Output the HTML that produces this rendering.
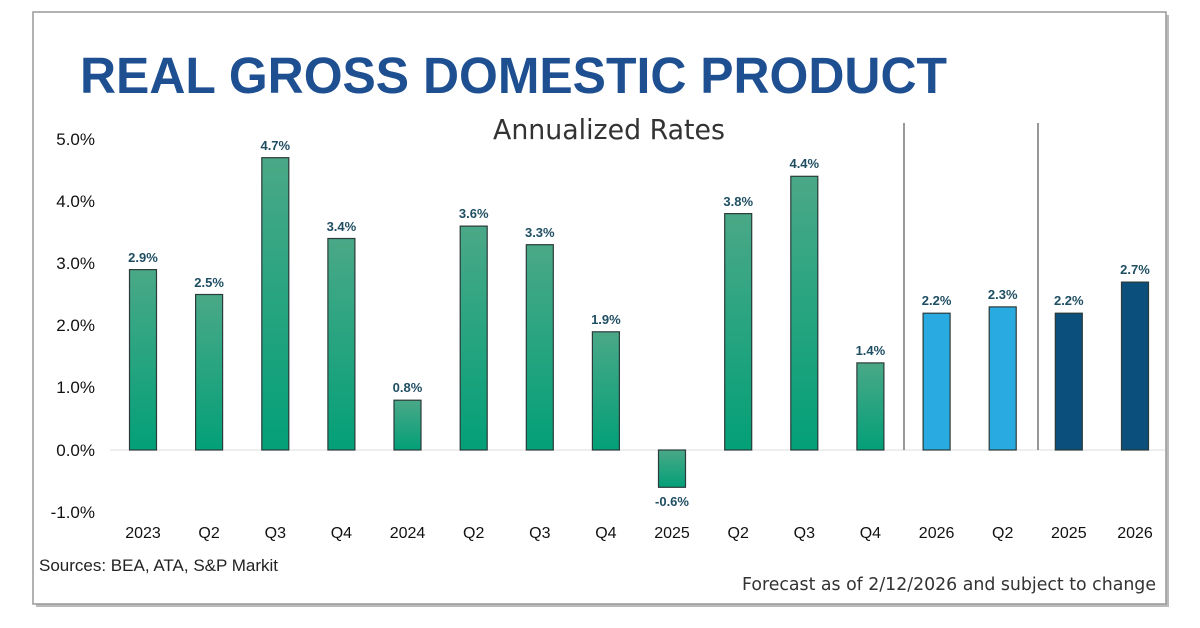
<!DOCTYPE html>
<html><head><meta charset="utf-8"><style>
body{margin:0;background:#fff;}
svg{display:block;font-family:"Liberation Sans",Arial,sans-serif;}
</style></head><body>
<svg width="1200" height="628" viewBox="0 0 1200 628">
<defs>
<linearGradient id="g" x1="0" y1="0" x2="0" y2="1"><stop offset="0" stop-color="#4aa887"/><stop offset="1" stop-color="#03a078"/></linearGradient>
</defs>
<rect x="0" y="0" width="1200" height="628" fill="#fff"/>
<rect x="36" y="15" width="1133" height="592" fill="#bbb"/>
<rect x="33" y="12" width="1133" height="592" fill="#fff" stroke="#999" stroke-width="1.5"/>
<text x="80" y="93" font-size="51" font-weight="bold" fill="#1d4f91" textLength="867" lengthAdjust="spacingAndGlyphs">REAL GROSS DOMESTIC PRODUCT</text>
<text x="609" y="139" font-size="28" fill="#333" text-anchor="middle" font-family="DejaVu Sans, sans-serif" textLength="232" lengthAdjust="spacingAndGlyphs">Annualized Rates</text>
<g font-size="17" fill="#111" text-anchor="end">
<text x="95" y="145">5.0%</text><text x="95" y="207">4.0%</text><text x="95" y="269">3.0%</text><text x="95" y="331">2.0%</text><text x="95" y="393">1.0%</text><text x="95" y="456">0.0%</text><text x="95" y="518">-1.0%</text>
</g>
<line x1="110" y1="450" x2="1165" y2="450" stroke="#ddd" stroke-width="1"/>
<line x1="904" y1="123" x2="904" y2="450" stroke="#555" stroke-width="1.2"/>
<line x1="1038" y1="123" x2="1038" y2="450" stroke="#555" stroke-width="1.2"/>
<g stroke="#2b3a3a" stroke-width="1.2">
<rect x="129.5" y="269.6" width="27" height="180.4" fill="url(#g)"/>
<rect x="195.6" y="294.5" width="27" height="155.5" fill="url(#g)"/>
<rect x="261.8" y="157.7" width="27" height="292.3" fill="url(#g)"/>
<rect x="327.9" y="238.5" width="27" height="211.5" fill="url(#g)"/>
<rect x="394.0" y="400.2" width="27" height="49.8" fill="url(#g)"/>
<rect x="460.2" y="226.1" width="27" height="223.9" fill="url(#g)"/>
<rect x="526.3" y="244.7" width="27" height="205.3" fill="url(#g)"/>
<rect x="592.4" y="331.8" width="27" height="118.2" fill="url(#g)"/>
<rect x="658.5" y="450" width="27" height="37.3" fill="url(#g)"/>
<rect x="724.7" y="213.6" width="27" height="236.4" fill="url(#g)"/>
<rect x="790.8" y="176.3" width="27" height="273.7" fill="url(#g)"/>
<rect x="856.9" y="362.9" width="27" height="87.1" fill="url(#g)"/>
<rect x="923.1" y="313.2" width="27" height="136.8" fill="#29abe2"/>
<rect x="989.2" y="306.9" width="27" height="143.1" fill="#29abe2"/>
<rect x="1055.3" y="313.2" width="27" height="136.8" fill="#0b4f7c"/>
<rect x="1121.5" y="282.1" width="27" height="167.9" fill="#0b4f7c"/>
</g>
<g font-size="13" font-weight="bold" fill="#1f4e63" text-anchor="middle">
<text x="143" y="262">2.9%</text>
<text x="209.1" y="287">2.5%</text>
<text x="275.3" y="150">4.7%</text>
<text x="341.4" y="231">3.4%</text>
<text x="407.5" y="392">0.8%</text>
<text x="473.7" y="218">3.6%</text>
<text x="539.8" y="237">3.3%</text>
<text x="605.9" y="324">1.9%</text>
<text x="672" y="506">-0.6%</text>
<text x="738.2" y="206">3.8%</text>
<text x="804.3" y="168">4.4%</text>
<text x="870.4" y="355">1.4%</text>
<text x="936.6" y="305">2.2%</text>
<text x="1002.7" y="299">2.3%</text>
<text x="1068.8" y="305">2.2%</text>
<text x="1135" y="274">2.7%</text>
</g>
<g font-size="16" fill="#111" text-anchor="middle">
<text x="143" y="538">2023</text>
<text x="209.1" y="538">Q2</text>
<text x="275.3" y="538">Q3</text>
<text x="341.4" y="538">Q4</text>
<text x="407.5" y="538">2024</text>
<text x="473.7" y="538">Q2</text>
<text x="539.8" y="538">Q3</text>
<text x="605.9" y="538">Q4</text>
<text x="672" y="538">2025</text>
<text x="738.2" y="538">Q2</text>
<text x="804.3" y="538">Q3</text>
<text x="870.4" y="538">Q4</text>
<text x="936.6" y="538">2026</text>
<text x="1002.7" y="538">Q2</text>
<text x="1068.8" y="538">2025</text>
<text x="1135" y="538">2026</text>
</g>
<text x="39" y="571" font-size="17" fill="#222">Sources: BEA, ATA, S&amp;P Markit</text>
<text x="1156" y="590" font-size="18" fill="#333" text-anchor="end" font-family="DejaVu Sans, sans-serif" textLength="414" lengthAdjust="spacingAndGlyphs">Forecast as of 2/12/2026 and subject to change</text>
</svg>
</body></html>
